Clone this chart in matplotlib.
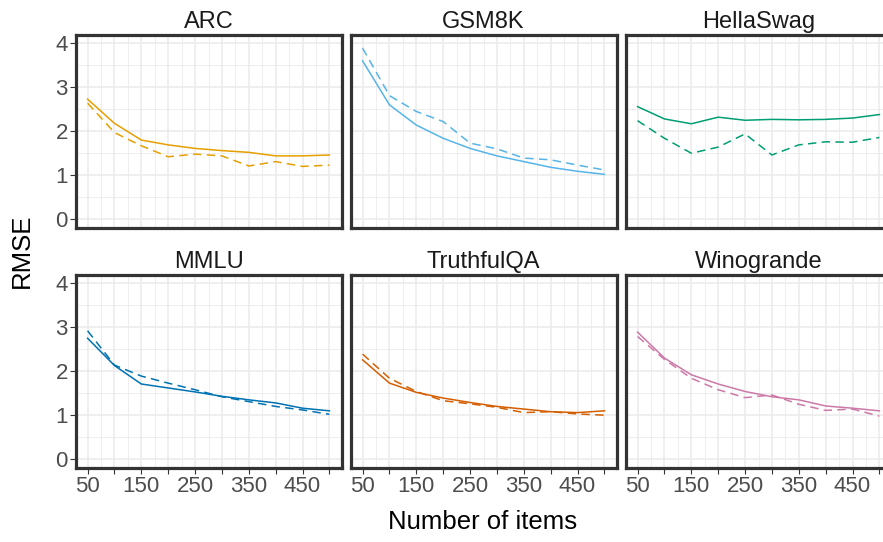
import numpy as np
import matplotlib
matplotlib.use("Agg")
import matplotlib.pyplot as plt

plt.rcParams["font.family"] = ["Liberation Sans", "DejaVu Sans"]

# ---- data ----
n_items = [50, 100, 150, 200, 250, 300, 350, 400, 450, 500]
benchmarks = ["ARC", "GSM8K", "HellaSwag", "MMLU", "TruthfulQA", "Winogrande"]
colors = ["#E69F00", "#56B4E9", "#009E73", "#0072B2", "#D55E00", "#CC79A7"]

arc_solid = [2.73, 2.18, 1.80, 1.69, 1.61, 1.56, 1.52, 1.44, 1.44, 1.46]
arc_dash = [2.64, 1.97, 1.67, 1.42, 1.48, 1.44, 1.21, 1.31, 1.20, 1.23]
gsm_solid = [3.60, 2.60, 2.14, 1.84, 1.61, 1.44, 1.31, 1.18, 1.09, 1.02]
gsm_dash = [3.89, 2.81, 2.45, 2.22, 1.73, 1.60, 1.39, 1.35, 1.23, 1.12]
hella_solid = [2.56, 2.28, 2.17, 2.32, 2.25, 2.27, 2.26, 2.27, 2.30, 2.38]
hella_dash = [2.24, 1.84, 1.50, 1.64, 1.94, 1.46, 1.69, 1.76, 1.75, 1.86]
mmlu_solid = [2.75, 2.13, 1.71, 1.62, 1.53, 1.43, 1.35, 1.28, 1.16, 1.10]
mmlu_dash = [2.92, 2.14, 1.89, 1.73, 1.58, 1.42, 1.31, 1.20, 1.12, 1.02]
tqa_solid = [2.26, 1.73, 1.52, 1.39, 1.29, 1.20, 1.14, 1.08, 1.06, 1.10]
tqa_dash = [2.39, 1.84, 1.54, 1.33, 1.26, 1.18, 1.06, 1.08, 1.03, 1.00]
wino_solid = [2.89, 2.30, 1.92, 1.71, 1.54, 1.42, 1.35, 1.21, 1.16, 1.10]
wino_dash = [2.79, 2.27, 1.84, 1.58, 1.40, 1.46, 1.25, 1.11, 1.14, 0.98]

solid = [arc_solid, gsm_solid, hella_solid, mmlu_solid, tqa_solid, wino_solid]
dashed = [arc_dash, gsm_dash, hella_dash, mmlu_dash, tqa_dash, wino_dash]

x_breaks = [50, 100, 150, 200, 250, 300, 350, 400, 450, 500]
x_labels = ["50", "", "150", "", "250", "", "350", "", "450", ""]
y_breaks = [0, 1, 2, 3, 4]

W, H = 883, 542
fig = plt.figure(figsize=(W / 100, H / 100), dpi=100)


def px_axes(l, t, r, b):
    return fig.add_axes([l / W, 1 - b / H, (r - l) / W, (b - t) / H])


lefts = [75.5, 350.5, 625.5]
rows = [(34.5, 228.0), (274.5, 468.0)]
pw = 266

for i, name in enumerate(benchmarks):
    r, c = divmod(i, 3)
    t, b = rows[r]
    ax = px_axes(lefts[c], t, lefts[c] + pw, b)
    ax.set_xlim(27.5, 522.5); ax.set_ylim(-0.2, 4.2)
    ax.set_xticks(x_breaks)
    ax.set_xticks(np.arange(75, 500, 50), minor=True)
    ax.set_yticks(y_breaks)
    ax.set_yticks(np.arange(0.5, 4, 1.0), minor=True)
    ax.grid(which="major", color="#EBEBEB", lw=1.1)
    ax.grid(which="minor", color="#EBEBEB", lw=0.6)
    ax.set_axisbelow(True)
    ax.plot(n_items, solid[i], color=colors[i], lw=1.1, zorder=3)
    ax.plot(n_items, dashed[i], color=colors[i], lw=1.1, ls=(0, (5.5, 3.5)), zorder=3)
    for s in ax.spines.values():
        s.set_color("#333333"); s.set_linewidth(2.3)
    ax.tick_params(which="minor", length=0)
    ax.tick_params(which="major", color="#333333", width=0.8, length=4,
                   labelsize=16, labelcolor="#4D4D4D", pad=1.5)
    if r == 1:
        ax.set_xticklabels(x_labels)
    else:
        ax.tick_params(axis="x", length=0, labelbottom=False)
    if c != 0:
        ax.tick_params(axis="y", length=0, labelleft=False)
    ax.set_title(name, fontsize=17, color="#1A1A1A", pad=5)

fig.text(483 / W, 1 - 522 / H, "Number of items", ha="center", va="center", fontsize=18.5)
fig.text(22 / W, 1 - 251 / H, "RMSE", ha="center", va="center", rotation=90, fontsize=18.5)

fig.savefig("out.png", dpi=100)
